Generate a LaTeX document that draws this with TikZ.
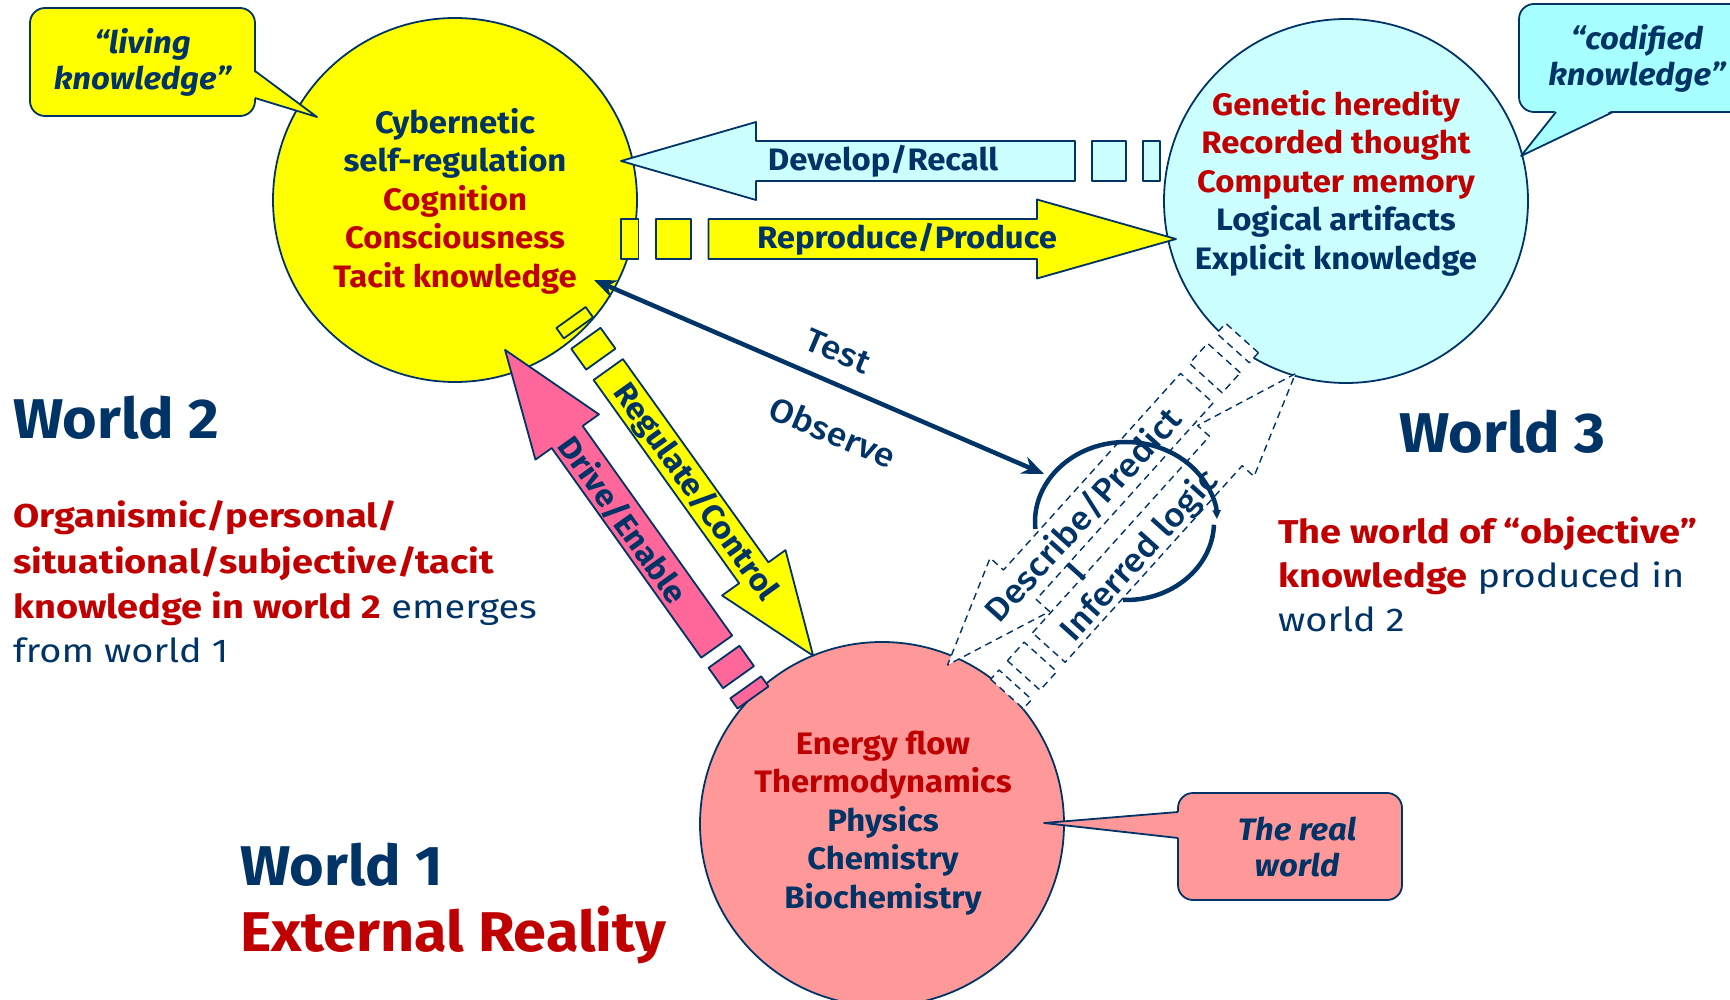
\documentclass[tikz,border=0pt]{standalone}
\usepackage{fontspec}
\setmainfont{Fira Sans}[FakeStretch=1.06]
\newfontfamily\widefont{Fira Sans}[FakeStretch=1.15]
\newfontfamily\medfont{Fira Sans Medium}[FakeStretch=1.08]
\usetikzlibrary{arrows.meta}

\definecolor{navy}{HTML}{003366}
\definecolor{dred}{HTML}{C00000}
\definecolor{sun}{HTML}{FFFF00}
\definecolor{ice}{HTML}{CCFFFF}
\definecolor{icebox}{HTML}{A8FFFF}
\definecolor{salmon}{HTML}{FF9999}
\definecolor{rose}{HTML}{FF6699}

\newcommand{\redbf}[1]{\textcolor{dred}{\bfseries #1}}

% striped block arrow: style, tail, angle, length, stripe, head length, half shaft, half head
\newcommand{\stripearrow}[8]{%
  \begin{scope}[shift={#2},rotate=#3]
    \draw[#1] (0,-#7) rectangle (#5,#7);
    \draw[#1] ({2*#5},-#7) rectangle ({4*#5},#7);
    \draw[#1] ({5*#5},-#7) -- ({#4-#6},-#7) -- ({#4-#6},-#8) -- (#4,0)
      -- ({#4-#6},#8) -- ({#4-#6},#7) -- ({5*#5},#7) -- cycle;
  \end{scope}}

\begin{document}
\begin{tikzpicture}[x=1pt,y=-1pt,line join=round,
  every node/.style={inner sep=0pt},
  rim/.style={draw=navy,line width=1.8pt},
  world/.style={circle,rim,minimum size=364pt},
  ghost/.style={draw=navy,line width=1.4pt,dash pattern=on 7pt off 5pt,fill=white},
  ctxt/.style={align=center,text=navy,font=\fontsize{31}{38.5}\selectfont\bfseries},
  lbl/.style={text=navy,font=\fontsize{31}{36}\selectfont\bfseries},
  lite/.style={text=navy,font=\medfont\fontsize{33}{36}\selectfont},
  bubble/.style={rim,rounded corners=15pt,align=center,text=navy,
    font=\fontsize{31}{36}\selectfont\bfseries\itshape},
  title/.style={anchor=base west,text=navy,font=\fontsize{56}{64}\selectfont\bfseries},
  para/.style={anchor=base west,text=navy,font=\widefont\fontsize{33}{45}\selectfont},
  link/.style={navy,line width=4.5pt,{Stealth[length=22pt,width=18pt]}-{Stealth[length=22pt,width=18pt]}},
  loopln/.style={navy,line width=4.5pt}]
  \useasboundingbox (0,0) rectangle (1730,1000);
  \clip (0,0) rectangle (1730,1000);

  % the three worlds
  \node[world,fill=sun]    (w2) at (455,200) {};
  \node[world,fill=ice]    (w3) at (1346,201) {};
  \node[world,fill=salmon] (w1) at (882,824) {};

  % block arrows
  \stripearrow{rim,fill=ice}{(1160,161)}{180}{539}{17}{135}{20}{39}
  \stripearrow{rim,fill=sun}{(621,239)}{0}{555}{17.5}{139}{20}{39.5}
  \stripearrow{rim,fill=sun}{(571,317.5)}{-54.4}{416}{12.8}{102}{18}{39}
  \stripearrow{rim,fill=rose}{(753,697.5)}{125.5}{427}{12.5}{107}{19}{39}
  \stripearrow{ghost}{(1242,338)}{-132}{440}{13.5}{108}{22}{40}
  \stripearrow{ghost}{(1007,694)}{48}{431}{12.5}{104}{22}{38}

  % test / observe loop
  \coordinate (loopc) at (1126,522);
  \coordinate (tacit) at (594,280);
  \coordinate (obs) at (1044,474);
  \draw[loopln,-{Triangle[length=9pt,width=8pt]}] (loopc) ++(175:91 and 80)
    arc[start angle=175,end angle=358,x radius=91,y radius=80];
  \draw[loopln] (loopc) ++(362:88 and 78)
    arc[start angle=362,end angle=452,x radius=88,y radius=78];
  \draw[link] (tacit) -- (obs);

  % speech bubbles
  \node[bubble,fill=sun,minimum width=225pt,minimum height=108pt] (living) at (142.5,62)
    {“living\\knowledge”};
  \fill[sun] (253,71) -- (317,117) -- (253,98) -- cycle;
  \draw[rim] (255,71) -- (317,117) -- (255,98);
  \node[bubble,fill=icebox,minimum width=236pt,minimum height=108pt] (codified) at (1637,58)
    {“codified\\knowledge”};
  \fill[icebox] (1556,110) -- (1521,156) -- (1613,110) -- cycle;
  \draw[rim] (1556,112) -- (1521,156) -- (1613,112);
  \node[bubble,fill=salmon,minimum width=224pt,minimum height=107pt] (real) at (1290,846.5)
    {\hspace*{14pt}The real\\\hspace*{14pt}world};
  \fill[salmon] (1180,812) -- (1044,823) -- (1180,838) -- cycle;
  \draw[rim] (1178,812) -- (1044,823) -- (1178,838);

  % circle contents
  \node[ctxt] (w2txt) at (455,201) {Cybernetic\\self-regulation\\
    \textcolor{dred}{Cognition}\\\textcolor{dred}{Consciousness}\\\textcolor{dred}{Tacit knowledge}};
  \node[ctxt] (w3txt) at (1336,183) {\textcolor{dred}{Genetic heredity}\\
    \textcolor{dred}{Recorded thought}\\\textcolor{dred}{Computer memory}\\
    Logical artifacts\\Explicit knowledge};
  \node[ctxt] (w1txt) at (883,823) {\textcolor{dred}{Energy flow}\\
    \textcolor{dred}{Thermodynamics}\\Physics\\Chemistry\\Biochemistry};

  % arrow labels
  \node[lbl] (devlbl) at (883,161) {Develop/Recall};
  \node[lbl] (reprlbl) at (907,239) {Reproduce/Produce};
  \node[lbl,rotate=-54.4] (reglbl) at (695,492) {Regulate/Control};
  \node[lbl,rotate=-54.5] (drvlbl) at (623,520) {Drive/Enable};
  \node[lite,rotate=48] (desclbl) at (1083,515) {Describe/Predict};
  \node[lite,rotate=48] (seplbl) at (1077,572) {I};
  \node[lite,rotate=48] (inflbl) at (1140,556) {Inferred logic};
  \node[lite,rotate=-23] (testlbl) at (838,351) {Test};
  \node[lite,rotate=-23] (obslbl) at (833,432) {Observe};

  % world captions
  \node[title] (cap2) at (13,438) {World 2};
  \node[para] (p2a) at (13,527) {\redbf{Organismic/personal/}};
  \node[para] (p2b) at (13,573) {\redbf{situational/subjective/tacit}};
  \node[para] (p2c) at (13,618) {\redbf{knowledge in world 2} emerges};
  \node[para] (p2d) at (13,662) {from world 1};
  \node[title] (cap3) at (1399,452) {World 3};
  \node[para] (p3a) at (1278,543) {\redbf{The world of “objective”}};
  \node[para] (p3b) at (1278,587) {\redbf{knowledge} produced in};
  \node[para] (p3c) at (1278,631) {world 2};
  \node[title] (cap1) at (240,885) {World 1};
  \node[title,text=dred] (cap1b) at (240,951) {External Reality};
\end{tikzpicture}
\end{document}
